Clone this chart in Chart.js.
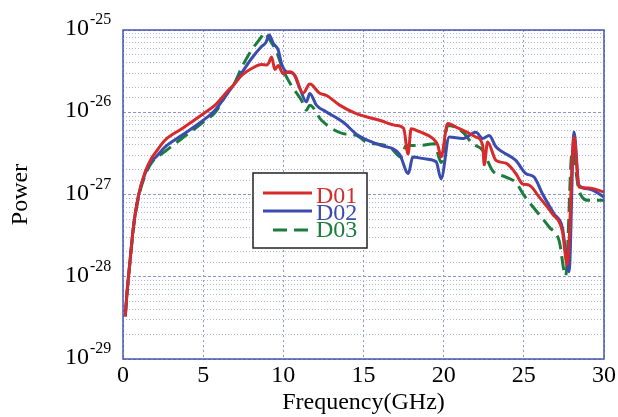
<!DOCTYPE html>
<html>
<head>
<meta charset="utf-8">
<script src="https://cdn.jsdelivr.net/npm/chart.js@4.4.0/dist/chart.umd.min.js"></script>
<style>
html, body { margin: 0; padding: 0; background: #fff; }
</style>
</head>
<body>
<canvas id="graph1" width="618" height="417"></canvas>
<script>
// values
const seriesNames = ['D01', 'D02', 'D03'];
const seriesColors = ['#d52b2b', '#3a4cae', '#1b7c3c'];

const freqD01 = [0.14, 0.25, 0.45, 0.66, 0.97, 1.39, 1.80, 2.01, 2.63, 3.67, 5.01, 5.74, 6.57, 6.90, 7.40, 8.02, 8.64, 8.96, 9.10, 9.27, 9.47, 9.68, 9.99, 10.40, 10.72, 11.23, 11.65, 12.27, 12.69, 13.51, 14.55, 16.00, 17.04, 17.50, 17.78, 17.97, 18.49, 19.32, 19.63, 19.84, 20.25, 20.77, 21.39, 22.01, 22.43, 22.53, 22.74, 23.26, 23.88, 24.50, 24.91, 25.33, 25.96, 26.78, 27.40, 27.71, 28.13, 28.44, 29.06, 30.00];
const powerD01 = [3.3e-29, 6.4e-29, 1.65e-28, 4.2e-28, 9.8e-28, 1.9e-27, 2.8e-27, 3.2e-27, 4.6e-27, 6.3e-27, 9.6e-27, 1.22e-26, 1.85e-26, 2.15e-26, 2.8e-26, 3.4e-26, 3.8e-26, 3.75e-26, 4.0e-26, 4.7e-26, 3.3e-26, 3.7e-26, 2.95e-26, 3.1e-26, 2.8e-26, 1.7e-26, 2.2e-26, 1.7e-26, 1.6e-26, 1.22e-26, 9.6e-27, 8.0e-27, 6.9e-27, 6.4e-27, 3.1e-27, 6.3e-27, 5.8e-27, 4.8e-27, 4.0e-27, 2.85e-27, 7.3e-27, 6.6e-27, 5.8e-27, 5.0e-27, 4.0e-27, 2.3e-27, 4.35e-27, 2.6e-27, 2.4e-27, 1.8e-27, 1.35e-27, 1.3e-27, 9.3e-28, 5.8e-28, 3.6e-28, 1.4e-28, 5.0e-27, 1.23e-27, 1.2e-27, 1.07e-27];

const freqD02 = [0.14, 0.25, 0.45, 0.66, 0.97, 1.39, 1.80, 2.01, 2.63, 3.67, 5.01, 5.74, 6.57, 6.90, 7.40, 8.02, 8.64, 8.90, 9.12, 9.37, 9.68, 9.89, 10.20, 10.61, 11.03, 11.44, 11.65, 12.06, 12.69, 13.72, 14.65, 16.00, 17.24, 17.80, 18.07, 18.91, 19.53, 19.84, 20.35, 21.18, 22.01, 22.43, 22.84, 23.26, 23.67, 24.50, 25.12, 25.64, 26.16, 26.89, 27.40, 27.82, 28.13, 28.44, 29.06, 30.00];
const powerD02 = [3.3e-29, 6.4e-29, 1.65e-28, 4.2e-28, 9.8e-28, 1.82e-27, 2.6e-27, 2.8e-27, 3.8e-27, 5.25e-27, 8.0e-27, 1.06e-26, 1.75e-26, 2.15e-26, 3.0e-26, 4.5e-26, 6.3e-26, 7.0e-26, 8.7e-26, 6.9e-26, 5.7e-26, 3.9e-26, 3.1e-26, 2.95e-26, 1.95e-26, 1.34e-26, 1.69e-26, 1.22e-26, 1.01e-26, 7.6e-27, 5.25e-27, 4.0e-27, 3.1e-27, 1.8e-27, 2.85e-27, 2.7e-27, 2.5e-27, 1.55e-27, 5.0e-27, 4.8e-27, 5.7e-27, 4.8e-27, 5.2e-27, 3.8e-27, 3.3e-27, 2.6e-27, 1.8e-27, 1.63e-27, 1.02e-27, 5.8e-28, 4.0e-28, 1.15e-28, 5.75e-27, 1.29e-27, 1.17e-27, 9.3e-28];

const freqD03 = [0.14, 0.25, 0.45, 0.66, 0.97, 1.39, 1.80, 2.63, 3.67, 5.01, 5.74, 6.57, 6.90, 7.40, 8.02, 8.64, 8.79, 9.16, 9.58, 9.99, 10.51, 11.13, 11.44, 11.65, 12.38, 13.72, 14.55, 15.17, 16.62, 17.35, 17.66, 18.59, 19.42, 19.84, 20.25, 21.18, 21.80, 22.43, 23.05, 23.88, 24.50, 25.02, 25.75, 26.59, 27.20, 27.61, 28.02, 28.44, 29.06, 30.00];
const powerD03 = [3.3e-29, 6.2e-29, 1.6e-28, 4.0e-28, 9.2e-28, 1.72e-27, 2.45e-27, 3.35e-27, 4.8e-27, 7.6e-27, 9.9e-27, 1.8e-26, 2.15e-26, 3.5e-26, 5.7e-26, 8.3e-26, 9.3e-26, 7.5e-26, 5.4e-26, 3.25e-26, 2.1e-26, 1.4e-26, 1.06e-26, 1.22e-26, 8.0e-27, 5.5e-27, 5.25e-27, 4.35e-27, 3.8e-27, 2.85e-27, 3.95e-27, 3.95e-27, 4.15e-27, 2.45e-27, 6.9e-27, 5.75e-27, 4.15e-27, 3.45e-27, 1.95e-27, 1.63e-27, 1.4e-27, 9.7e-28, 6.4e-28, 4.0e-28, 2.75e-28, 1.03e-28, 3.45e-27, 1.12e-27, 8.5e-28, 8.5e-28];

const yDecades = [1e-29, 1e-28, 1e-27, 1e-26, 1e-25];
const yExponents = ['-29', '-28', '-27', '-26', '-25'];
const xMin = 0, xMax = 30, xStep = 5;

const serif = "'Liberation Serif', 'Times New Roman', serif";

function toPoints(xs, ys) {
    return xs.map((x, i) => ({ x: x, y: ys[i] }));
}

function isDecade(v) {
    const l = Math.log10(v);
    return Math.abs(l - Math.round(l)) < 1e-6;
}

// y tick labels as 10 with a raised exponent
const powerTicks = {
    id: 'powerTicks',
    afterDraw(chart) {
        const ctx = chart.ctx;
        const ys = chart.scales.y;
        const right = chart.chartArea.left - 34;
        ctx.save();
        ctx.fillStyle = '#000';
        ctx.textBaseline = 'alphabetic';
        yDecades.forEach((v, i) => {
            const py = ys.getPixelForValue(v);
            ctx.font = '24px ' + serif;
            ctx.textAlign = 'right';
            ctx.fillText('10', right, py + 5);
            ctx.font = '16px ' + serif;
            ctx.textAlign = 'left';
            ctx.fillText(yExponents[i], right + 1, py - 6);
        });
        ctx.restore();
    }
};

// blue frame round the plot
const frame = {
    id: 'frame',
    afterDatasetsDraw(chart) {
        const a = chart.chartArea;
        const ctx = chart.ctx;
        ctx.save();
        ctx.strokeStyle = '#4654b0';
        ctx.lineWidth = 1.5;
        ctx.strokeRect(a.left, a.top, a.right - a.left, a.bottom - a.top);
        ctx.restore();
    }
};

// boxed legend inside the plot
const boxLegend = {
    id: 'boxLegend',
    afterDraw(chart) {
        const a = chart.chartArea;
        const ctx = chart.ctx;
        const bx = a.left + 130, by = a.top + 143, bw = 114, bh = 75;
        ctx.save();
        ctx.fillStyle = '#fff';
        ctx.fillRect(bx, by, bw, bh);
        ctx.strokeStyle = '#222';
        ctx.lineWidth = 1.5;
        ctx.strokeRect(bx, by, bw, bh);
        const rows = [20, 38, 57];
        const base = [30, 47, 64];
        chart.data.datasets.forEach((ds, i) => {
            ctx.strokeStyle = ds.borderColor;
            ctx.lineWidth = 3;
            ctx.setLineDash(ds.borderDash || []);
            ctx.beginPath();
            const x0 = ds.borderDash ? bx + 20 : bx + 10;
            ctx.moveTo(x0, by + rows[i]);
            ctx.lineTo(bx + 59, by + rows[i]);
            ctx.stroke();
            ctx.setLineDash([]);
            ctx.fillStyle = ds.borderColor;
            ctx.font = '24px ' + serif;
            ctx.textAlign = 'left';
            ctx.textBaseline = 'alphabetic';
            ctx.fillText(ds.label, bx + 63, by + base[i]);
        });
        ctx.restore();
    }
};

const ctx = document.getElementById('graph1').getContext('2d');
const chart1 = new Chart(ctx, {
    type: 'line',
    data: {
        datasets: [{
            label: seriesNames[0],
            data: toPoints(freqD01, powerD01),
            borderColor: seriesColors[0],
            borderWidth: 3,
            pointRadius: 0,
            cubicInterpolationMode: 'monotone',
            fill: false
        }, {
            label: seriesNames[1],
            data: toPoints(freqD02, powerD02),
            borderColor: seriesColors[1],
            borderWidth: 3,
            pointRadius: 0,
            cubicInterpolationMode: 'monotone',
            fill: false
        }, {
            label: seriesNames[2],
            data: toPoints(freqD03, powerD03),
            borderColor: seriesColors[2],
            borderWidth: 3,
            borderDash: [14, 7],
            pointRadius: 0,
            cubicInterpolationMode: 'monotone',
            fill: false
        }]
    },
    options: {
        responsive: false,
        animation: false,
        layout: { padding: { left: 0, right: 13, top: 30, bottom: 0 } },
        plugins: {
            legend: { display: false },
            tooltip: { enabled: false }
        },
        scales: {
            x: {
                type: 'linear',
                position: 'bottom',
                min: xMin,
                max: xMax,
                afterFit: s => { s.height = 58; },
                ticks: {
                    stepSize: xStep,
                    color: '#000',
                    padding: 2,
                    font: { family: serif, size: 24 }
                },
                grid: {
                    color: '#8c94d8',
                    lineWidth: 1,
                    drawTicks: false
                },
                border: { display: false, dash: [2, 3] },
                title: {
                    display: true,
                    text: 'Frequency(GHz)',
                    color: '#000',
                    font: { family: serif, size: 24 },
                    padding: { top: 0, bottom: 0 }
                }
            },
            y: {
                type: 'logarithmic',
                min: 1e-29,
                max: 1e-25,
                afterFit: s => { s.width = 123; },
                ticks: { display: false, autoSkip: false },
                grid: {
                    color: c => (c.tick && isDecade(c.tick.value)) ? '#8c94d8' : '#b0b6e4',
                    lineWidth: 1,
                    drawTicks: false
                },
                border: { display: false, dash: c => (c.tick && isDecade(c.tick.value)) ? [3, 2] : [1, 2] },
                title: {
                    display: true,
                    text: 'Power',
                    color: '#000',
                    font: { family: serif, size: 24 },
                    padding: { top: 6, bottom: 0 }
                }
            }
        }
    },
    plugins: [powerTicks, frame, boxLegend]
});
</script>
</body>
</html>
